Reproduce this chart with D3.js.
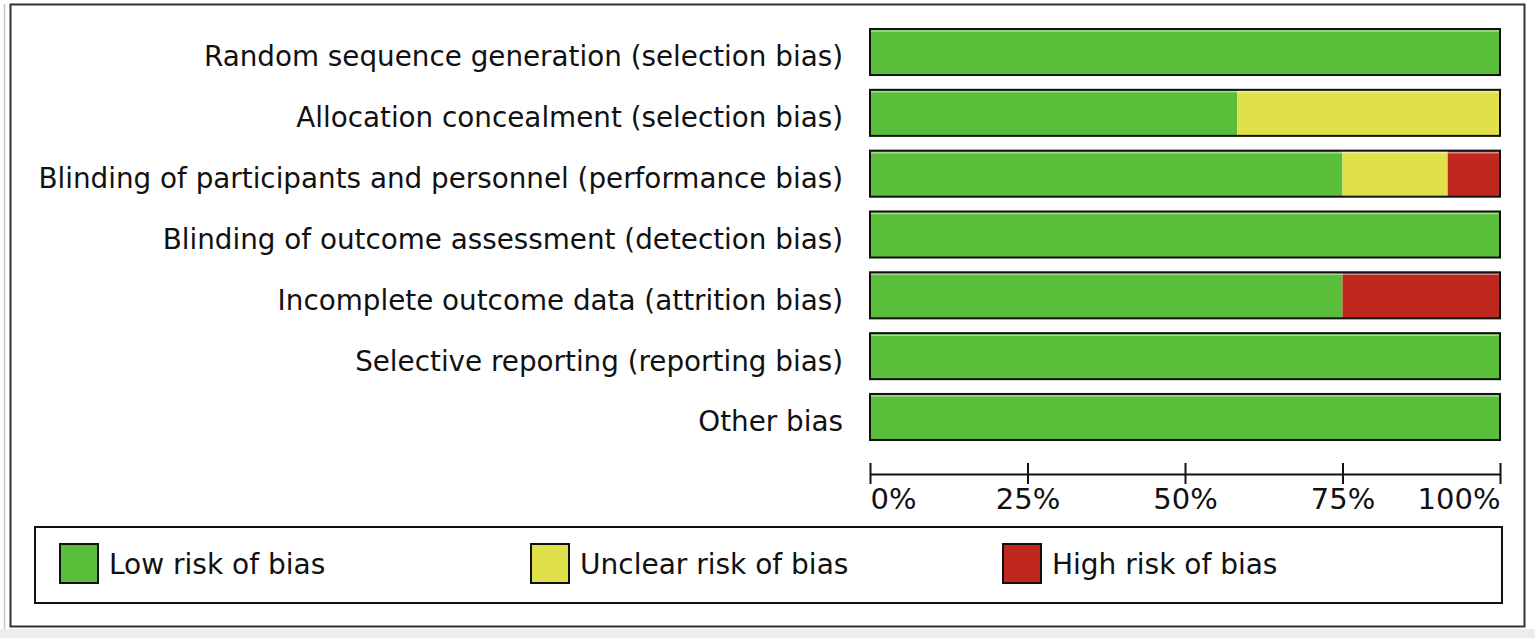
<!DOCTYPE html>
<html>
  <head>
    <script src="https://d3js.org/d3.v7.min.js"></script>
    <style>
      body { margin: 0; background: #ececec; }
      text { font-family: "DejaVu Sans", sans-serif; fill: #111; }
    </style>
  </head>
  <body>
    <svg id="chart" width="1535" height="638"></svg>
    <script>
      // risk of bias summary, share of studies per judgement
      const domains = [
        "Random sequence generation (selection bias)",
        "Allocation concealment (selection bias)",
        "Blinding of participants and personnel (performance bias)",
        "Blinding of outcome assessment (detection bias)",
        "Incomplete outcome data (attrition bias)",
        "Selective reporting (reporting bias)",
        "Other bias"
      ];
      const lowRisk     = [100, 58.3, 75, 100, 75, 100, 100];
      const unclearRisk = [0, 41.7, 16.7, 0, 0, 0, 0];
      const highRisk    = [0, 0, 8.3, 0, 25, 0, 0];
      const riskNames = ["Low risk of bias", "Unclear risk of bias", "High risk of bias"];
      const riskColors = ["#5bbe3b", "#e0e04b", "#c0281f"];
      const tickValues = [0, 25, 50, 75, 100];

      let svg = d3.select("#chart");

      // screenshot style frame
      svg.append("rect").attr("x", 0).attr("y", 0).attr("width", 1535).attr("height", 629).attr("fill", "#fff");
      svg.append("line").attr("x1", 4.5).attr("x2", 4.5).attr("y1", 4).attr("y2", 629)
        .attr("stroke", "#c8c8c8").attr("stroke-width", 1.5);
      svg.append("rect").attr("x", 10.5).attr("y", 4.5).attr("width", 1514).attr("height", 622)
        .attr("fill", "#fff").attr("stroke", "#333").attr("stroke-width", 2);

      let xScale = d3.scaleLinear().domain([0, 100]).range([870, 1500]);
      let yScale = d3.scaleBand().domain(domains).range([21.6, 447.4]).paddingInner(0.243).paddingOuter(0.1215);

      let rows = domains.map((d, i) => {
        let vals = [lowRisk[i], unclearRisk[i], highRisk[i]];
        let start = 0;
        return {
          name: d,
          parts: vals.map((v, k) => {
            let p = {x0: start, x1: start + v, k: k};
            start += v;
            return p;
          }).filter(p => p.x1 > p.x0)
        };
      });

      let barArea = svg.append("g").attr("id", "barArea");
      let rowG = barArea.selectAll("g.row").data(rows).join("g").attr("class", "row");

      rowG.selectAll("rect.seg").data(d => d.parts.map(p => Object.assign({name: d.name}, p)))
        .join("rect")
        .attr("class", "seg")
        .attr("x", d => xScale(d.x0))
        .attr("y", d => yScale(d.name))
        .attr("width", d => xScale(d.x1) - xScale(d.x0))
        .attr("height", yScale.bandwidth())
        .attr("fill", d => riskColors[d.k]);

      // light top highlight
      rowG.append("line")
        .attr("x1", xScale(0) + 1).attr("x2", xScale(100) - 1)
        .attr("y1", d => yScale(d.name) + 2).attr("y2", d => yScale(d.name) + 2)
        .attr("stroke", "#fff").attr("stroke-opacity", 0.45).attr("stroke-width", 1.5);

      rowG.append("rect")
        .attr("x", xScale(0))
        .attr("y", d => yScale(d.name))
        .attr("width", xScale(100) - xScale(0))
        .attr("height", yScale.bandwidth())
        .attr("fill", "none")
        .attr("stroke", "#111")
        .attr("stroke-width", 2);

      rowG.append("text")
        .attr("x", 843)
        .attr("y", d => yScale(d.name) + yScale.bandwidth() / 2)
        .attr("dy", "0.52em")
        .attr("text-anchor", "end")
        .style("font-size", "27.8px")
        .text(d => d.name);

      // axis with ticks crossing the line
      let axis = svg.append("g").attr("transform", "translate(0,474)")
        .call(d3.axisBottom(xScale).tickValues(tickValues).tickFormat(d => d + "%").tickSize(10).tickSizeOuter(0));
      axis.select(".domain").attr("stroke", "#111").attr("stroke-width", 2);
      axis.selectAll(".tick line").attr("y1", -11).attr("stroke", "#111").attr("stroke-width", 2);
      axis.selectAll(".tick text")
        .attr("y", 35)
        .attr("dy", null)
        .style("font-family", "'DejaVu Sans', sans-serif")
        .style("font-size", "29px")
        .attr("fill", "#111")
        .attr("text-anchor", (d, i) => i == 0 ? "start" : (i == tickValues.length - 1 ? "end" : "middle"));

      // legend
      let legend = svg.append("g").attr("id", "legend");
      legend.append("rect").attr("x", 35).attr("y", 527).attr("width", 1467).attr("height", 76)
        .attr("fill", "#fff").attr("stroke", "#111").attr("stroke-width", 2);
      let legendX = d3.scaleOrdinal().domain(riskNames).range([60, 531, 1003]);
      let item = legend.selectAll("g.item").data(riskNames).join("g").attr("class", "item");
      item.append("rect")
        .attr("x", d => legendX(d)).attr("y", 544)
        .attr("width", 38).attr("height", 39)
        .attr("fill", (d, i) => riskColors[i])
        .attr("stroke", "#111").attr("stroke-width", 2);
      item.append("text")
        .attr("x", d => legendX(d) + 49).attr("y", 574)
        .style("font-size", "28px")
        .text(d => d);
    </script>
  </body>
</html>
